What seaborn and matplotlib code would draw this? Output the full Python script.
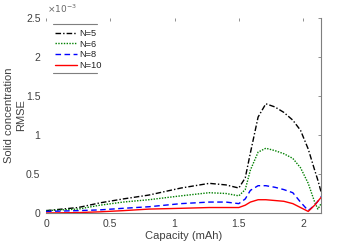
import numpy as np
import pandas as pd
import matplotlib
matplotlib.use("Agg")
import matplotlib.pyplot as plt
import seaborn as sns
from matplotlib.ticker import FuncFormatter

# capacity grid (mAh) and RMSE values (x 1e-3)
capacity = [0, 0.25, 0.42, 0.6, 0.8, 1.05, 1.27, 1.4, 1.5, 1.55, 1.59, 1.65,
            1.71, 1.78, 1.85, 1.92, 1.98, 2.04, 2.09, 2.115, 2.14]
rmse_n5 = [0.03, 0.07, 0.13, 0.18, 0.23, 0.32, 0.38, 0.36, 0.32, 0.45, 0.77, 1.23,
           1.40, 1.36, 1.29, 1.19, 1.06, 0.82, 0.55, 0.42, 0.27]
rmse_n6 = [0.03, 0.05, 0.10, 0.14, 0.17, 0.22, 0.26, 0.25, 0.22, 0.30, 0.55, 0.78,
           0.83, 0.80, 0.76, 0.70, 0.58, 0.38, 0.14, 0.05, 0.12]
rmse_n8 = [0.02, 0.03, 0.04, 0.06, 0.08, 0.12, 0.14, 0.14, 0.12, 0.18, 0.29, 0.35,
           0.35, 0.33, 0.30, 0.26, 0.14, 0.03, 0.10, 0.15, 0.21]
rmse_n10 = [0.0, 0.005, 0.015, 0.03, 0.05, 0.06, 0.07, 0.07, 0.07, 0.10, 0.14, 0.17,
            0.17, 0.16, 0.15, 0.12, 0.07, 0.02, 0.10, 0.15, 0.20]
labels = ["N=5", "N=6", "N=8", "N=10"]

series = {"N=5": rmse_n5, "N=6": rmse_n6, "N=8": rmse_n8, "N=10": rmse_n10}
rows = []
for name, vals in series.items():
    for c, v in zip(capacity, vals):
        rows.append({"cap": c, "rmse": v * 1e-3, "N": name})
df = pd.DataFrame(rows)

sns.set_style("white")
plt.rcParams['font.family'] = ['Liberation Sans', 'DejaVu Sans']

fig = plt.figure(figsize=(3.54, 2.43), dpi=100)
ax = fig.add_axes([0.13, 0.1235, 0.777, 0.8025])

palette = {"N=5": "black", "N=6": "#008000", "N=8": "#0000ff", "N=10": "#ff0000"}
dashes = {"N=5": (4, 1.5, 1, 1.5), "N=6": (1, 1), "N=8": (4, 2.5), "N=10": ""}
sns.lineplot(data=df, x="cap", y="rmse", hue="N", style="N", palette=palette,
             dashes=dashes, hue_order=labels, style_order=labels,
             linewidth=1.0, ax=ax, legend=True)

ax.set_xlim(0, 2.14)
ax.set_ylim(0, 2.5e-3)
ax.set_xticks([0, 0.5, 1, 1.5, 2])
ax.set_yticks(np.arange(0, 2.51e-3, 0.5e-3))
ax.yaxis.set_major_formatter(FuncFormatter(lambda v, p: "%g" % round(v * 1e3, 3)))
ax.xaxis.set_major_formatter(FuncFormatter(lambda v, p: "%g" % v))

grey = "#7f7f7f"
for s in ["left", "top"]:
    ax.spines[s].set_visible(False)
for s in ["right", "bottom"]:
    ax.spines[s].set_color(grey)
    ax.spines[s].set_linewidth(0.8)
ax.tick_params(axis="both", direction="in", length=2.5, width=0.6, colors=grey,
               labelcolor="#404040", labelsize=7.5, right=True, top=True)
ax.tick_params(axis="x", pad=4)
ax.tick_params(axis="y", pad=4)

ax.set_xlabel("Capacity (mAh)", fontsize=8, color="#404040", labelpad=2)
ax.set_ylabel("Solid concentration\nRMSE", fontsize=8, color="#404040",
              labelpad=0, linespacing=1.3)
ax.text(0.005, 1.015, r"$\times10^{-3}$", transform=ax.transAxes, fontsize=6.5,
        color="#666666", va="bottom", ha="left")

leg = ax.legend(loc="upper left", bbox_to_anchor=(0.018, 0.963), frameon=False,
                fontsize=6.7, handlelength=2.4, handletextpad=0.2,
                labelspacing=0.19, borderaxespad=0)
for t in leg.get_texts():
    t.set_color("#222222")
ax.plot([0.025, 0.185], [0.97, 0.97], transform=ax.transAxes, color=grey, lw=0.8,
        clip_on=False)
ax.plot([0.025, 0.185], [0.718, 0.718], transform=ax.transAxes, color=grey, lw=0.8,
        clip_on=False)

fig.savefig("out.png", dpi=100)
